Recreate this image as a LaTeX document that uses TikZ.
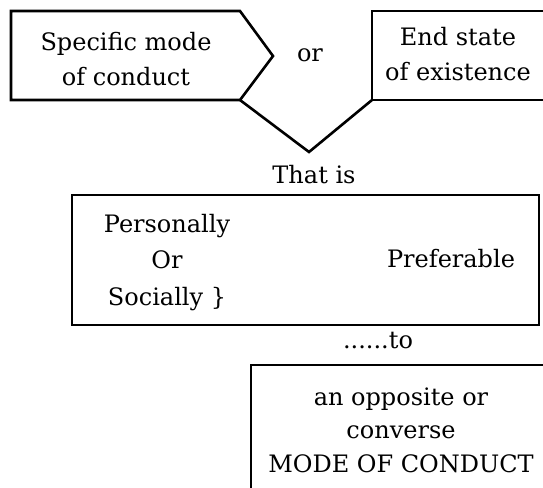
\documentclass[tikz,border=0pt]{standalone}
\usepackage{fontspec}
\setmainfont{DejaVu Serif}
\begin{document}
\begin{tikzpicture}[x=1pt,y=-1pt,
  outline/.style={draw=black,line width=2.6pt,line join=miter},
  txt/.style={font=\fontsize{24}{35}\selectfont,align=center,inner sep=0pt,anchor=base},
  midtxt/.style={txt,font=\fontsize{24}{36.5}\selectfont},
  lowtxt/.style={txt,font=\fontsize{24}{33.5}\selectfont}]
\useasboundingbox (0,0) rectangle (543,487);
\clip (0,0) rectangle (543,487);
\fill[white] (0,0) rectangle (543,487);

% corner points of the shapes
\coordinate (modeTop) at (240,11);
\coordinate (modeTip) at (273,56);
\coordinate (modeBot) at (240,100);
\coordinate (stateBot) at (372,100);
\coordinate (vTip) at (309,152);

% pointed box on the left (multi-line nodes sit on their last baseline)
\draw[outline] (11,11) -- (modeTop) -- (modeTip) -- (modeBot) -- (11,100) -- cycle;
\node[txt] (mode) at (126,85) {Specific mode\\of conduct};

\node[txt] (or) at (310,62) {or};

% box on the right, running past the edge
\draw[outline] (600,11) -- (372,11) -- (stateBot) -- (600,100);
\node[txt] (state) at (458,80) {End state\\of existence};

% the V joining the two boxes
\draw[outline] (modeBot) -- (vTip) -- (stateBot);

\node[txt] (thatis) at (314,183) {That is};

% middle box
\draw[outline] (72,195) rectangle (539,325);
\node[midtxt] (pos) at (167,305) {Personally\\Or\\Socially \}};
\node[txt] (preferable) at (451,267) {Preferable};

\node[txt] (to) at (378,348) {......to};

% lower box, running past the edges
\draw[outline] (600,365) -- (251,365) -- (251,520);
\node[lowtxt] (opp) at (401,472) {an opposite or\\converse\\MODE OF CONDUCT};
\end{tikzpicture}
\end{document}
